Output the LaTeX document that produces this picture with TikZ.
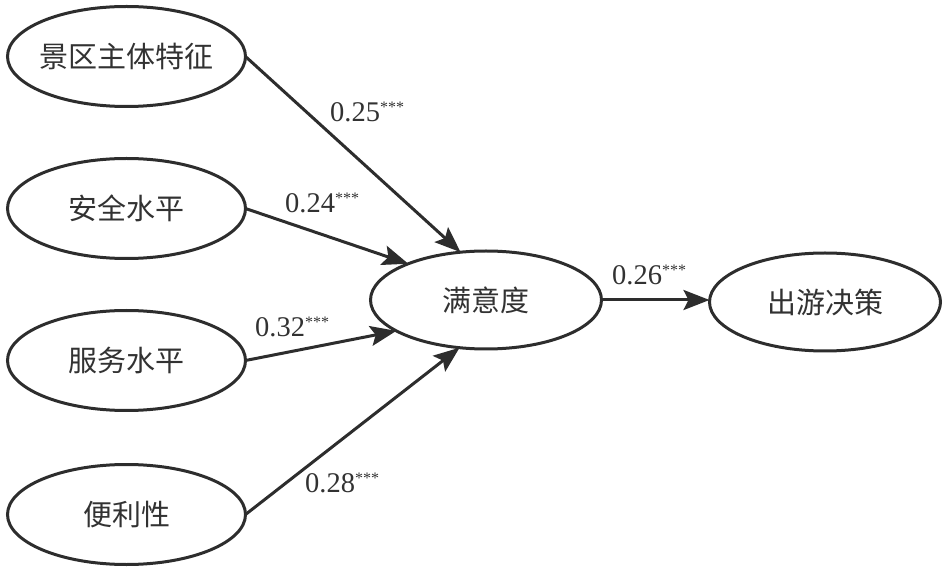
\documentclass[tikz,border=0pt]{standalone}
\usepackage{fontspec}
\setmainfont{Liberation Serif}
\newfontfamily\cjkfont{Noto Sans CJK SC}
\usetikzlibrary{shapes.geometric,arrows.meta}
\definecolor{ink}{RGB}{45,45,45}
\definecolor{txt}{RGB}{50,50,50}
\newcommand\sigstars{\raisebox{9pt}{\fontsize{16}{16}\selectfont ***}}
\begin{document}
\begin{tikzpicture}[x=1pt,y=-1pt,
  oval/.style={ellipse,draw=ink,line width=3pt,inner sep=0pt,outer sep=0pt},
  leftoval/.style={oval,minimum width=238pt,minimum height=100pt},
  midoval/.style={oval,minimum width=231pt,minimum height=98pt},
  cjktext/.style={font=\cjkfont\fontsize{29}{29}\selectfont,text=txt,inner sep=0pt},
  coef/.style={font=\fontsize{28.5}{28.5}\selectfont,text=txt,inner sep=0pt,anchor=base west},
  path/.style={draw=ink,line width=3pt,-{Stealth[length=26pt,width=20pt,inset=5pt]}}]
\useasboundingbox (0,0) rectangle (943,569);
% ellipses
\node[leftoval] (e1) at (126.5,56.5) {};
\node[leftoval] (e2) at (126.5,208.5) {};
\node[leftoval] (e3) at (126.5,360.5) {};
\node[leftoval] (e4) at (126.5,514.5) {};
\node[midoval] (m) at (486,300) {};
\node[midoval] (r) at (825,302) {};
% texts
\node[cjktext] (t1) at (e1) {景区主体特征};
\node[cjktext] (t2) at (e2) {安全水平};
\node[cjktext] (t3) at (e3) {服务水平};
\node[cjktext] (t4) at (e4) {便利性};
\node[cjktext] (tm) at (m) {满意度};
\node[cjktext] (tr) at (r) {出游决策};
% arrows
\draw[path] (e1.east) -- (m.118);
\draw[path] (e2.east) -- (m.155);
\draw[path] (e3.east) -- (m.199);
\draw[path] (e4.east) -- (m.241);
\draw[path] (m.east) -- (m.east -| r.west);
% coefficients
\node[coef] (c1) at (330,122) {0.25\sigstars};
\node[coef] (c2) at (285,213) {0.24\sigstars};
\node[coef] (c3) at (255,337) {0.32\sigstars};
\node[coef] (c4) at (305,492) {0.28\sigstars};
\node[coef] (c5) at (612,285) {0.26\sigstars};
\end{tikzpicture}
\end{document}
